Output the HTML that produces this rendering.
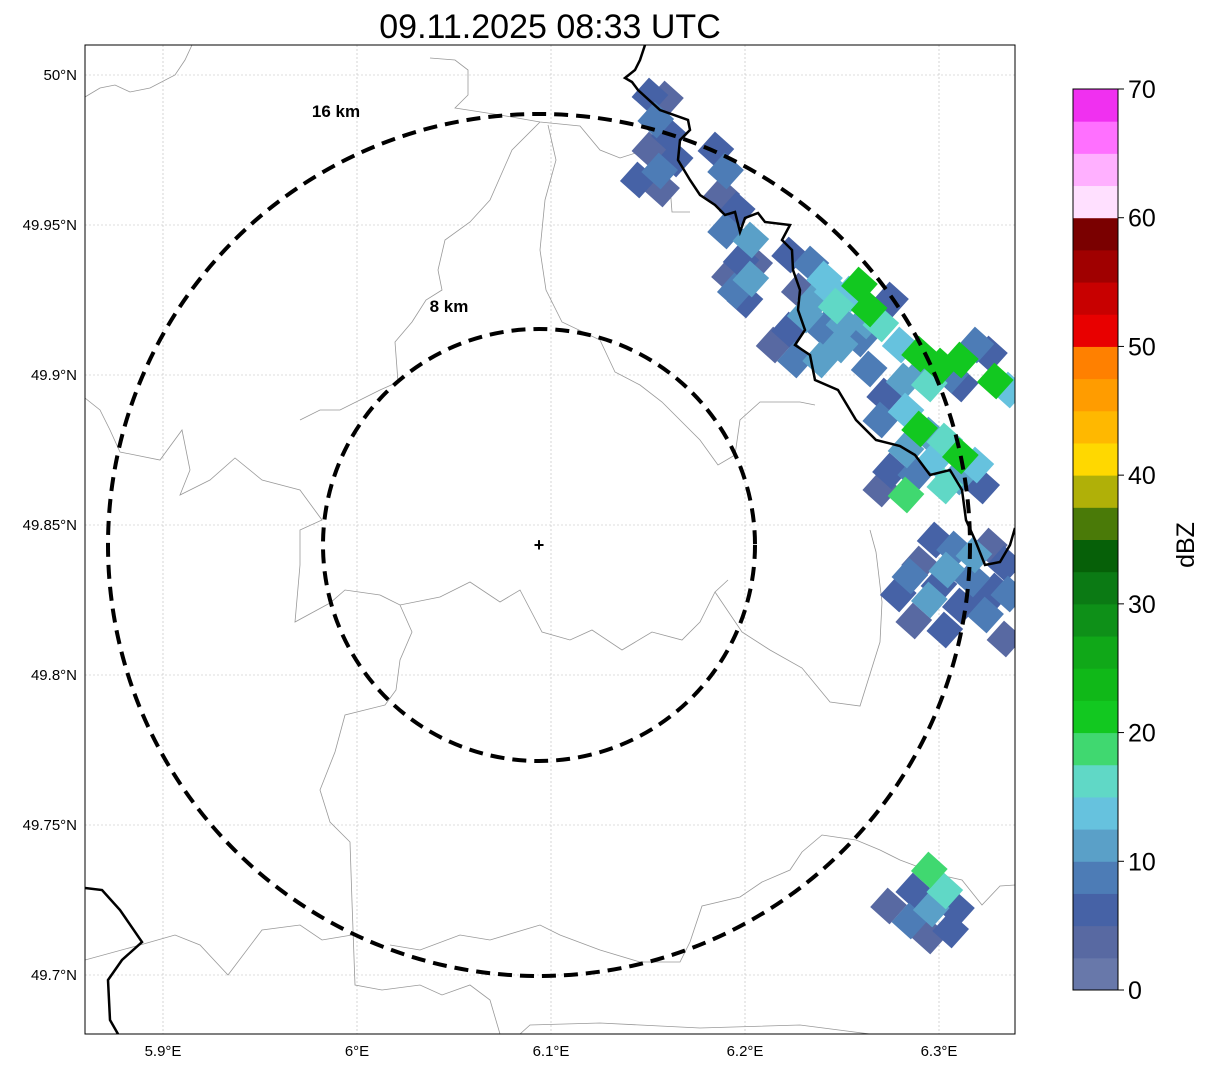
<!DOCTYPE html>
<html><head><meta charset="utf-8"><style>
body{margin:0;background:#fff;}
svg{display:block;font-family:"Liberation Sans",sans-serif;}
</style></head><body>
<svg id="chart" width="1207" height="1069">
<defs><clipPath id="plotclip"><rect x="85" y="45" width="930" height="989"/></clipPath></defs>
<text x="550" y="38" font-size="34" text-anchor="middle">09.11.2025 08:33 UTC</text>
<g id="grid"></g>
<g clip-path="url(#plotclip)">
<g id="borders" fill="none" stroke="#999" stroke-width="0.8">
<polyline points="85,97 100,88 115,85 130,92 150,88 175,75 185,60 192,45"/>
<polyline points="430,58 455,60 468,70 468,95 455,108 500,115 540,122 580,126 600,150 620,158 645,150 668,160 672,212 690,212"/>
<polyline points="548,125 556,160 545,200 540,250 546,290 562,322 600,340 615,372 640,385 662,402 700,440 718,465 735,455 740,420 760,402 800,402 815,405"/>
<polyline points="540,122 512,150 490,200 470,222 445,240 438,270 442,290 426,300 412,322 395,342 398,382 380,390 360,400 340,410 320,410 300,420"/>
<polyline points="85,398 100,410 110,430 120,452 160,460 182,430 190,470 180,495 210,480 235,458 262,480 300,490 322,520 300,530 300,565 295,622 330,603 345,590 380,595 400,605 440,597 470,582 500,602 520,590 542,632 570,640 592,630 622,650 652,632 682,640 700,622 715,592 728,580"/>
<polyline points="400,605 412,632 400,660 396,690 385,705 345,715 335,752 320,790 330,822 350,842 352,902 355,985 382,990 420,985 442,995 470,985 490,1000 500,1034"/>
<polyline points="85,960 140,945 175,935 200,945 228,975 262,930 300,925 322,940 352,935"/>
<polyline points="1015,885 1000,886 982,905 962,880 940,875 900,860 880,850 856,840 822,835 802,852 790,870 762,882 740,897 702,906 690,942 680,962 640,962 600,950 560,935 540,925 490,940 460,935 420,950 390,945"/>
<polyline points="520,1034 530,1025 600,1023 700,1028 800,1025 870,1034"/>
<polyline points="715,592 742,632 770,650 802,668 830,702 860,706 880,642 882,602 876,552 870,530"/>
</g>
<g id="echoes"></g>
<polyline fill="none" stroke="#000" stroke-width="2.5" points="645,45 640,60 635,70 625,78 632,82 638,90 660,110 688,120 690,130 680,140 678,160 690,180 700,195 715,205 725,215 735,212 740,232 745,218 758,213 765,222 790,225 782,240 792,250 793,270 800,290 798,310 805,330 795,345 810,355 815,380 838,390 856,420 876,440 900,446 915,455 930,475 950,470 962,490 966,520 975,540 985,565 1000,562 1010,545 1015,528"/>
<polyline fill="none" stroke="#000" stroke-width="2.5" points="85,888 102,890 120,910 142,942 122,960 108,980 110,1020 118,1034"/>
<circle cx="539" cy="545" r="216" fill="none" stroke="#000" stroke-width="4" stroke-dasharray="14,8"/>
<circle cx="539" cy="545" r="431" fill="none" stroke="#000" stroke-width="4" stroke-dasharray="14,8"/>
<text x="449" y="312" font-size="17" font-weight="bold" text-anchor="middle">8 km</text>
<text x="336" y="117" font-size="17" font-weight="bold" text-anchor="middle">16 km</text>
<text x="539" y="551" font-size="18" font-weight="bold" text-anchor="middle">+</text>
</g>
<rect x="85" y="45" width="930" height="989" fill="none" stroke="#000" stroke-width="1"/>
<g id="ticks" font-size="15"></g>
<g id="cbar"></g>
<text transform="translate(1194,545) rotate(-90)" font-size="25" text-anchor="middle">dBZ</text>
</svg>
<script>
const lonTicks=[5.9,6.0,6.1,6.2,6.3];
const lonLabels=["5.9°E","6°E","6.1°E","6.2°E","6.3°E"];
const latTicks=[50,49.95,49.9,49.85,49.8,49.75,49.7];
const latLabels=["50°N","49.95°N","49.9°N","49.85°N","49.8°N","49.75°N","49.7°N"];
const cbTicks=[0,10,20,30,40,50,60,70];
const bandColors=["#6878aa","#5869a2","#4662a6","#4d7cb6","#5aa0c8","#66c2de","#60d8c6","#40d870","#12c820","#10b818","#10a818","#0e9018","#0b7a14","#066008","#4a7a08","#b0b008","#ffd800","#ffb800","#ff9c00","#ff8000","#e80000","#c80000","#a00000","#7a0000","#ffe0ff","#ffb0ff","#ff70ff","#f030f0"];
const cellLon=[6.151,6.159,6.154,6.161,6.151,6.156,6.164,6.157,6.145,
6.185,6.190,6.188,6.196,6.190,6.203,6.198,6.205,6.195,6.203,6.200,6.192,
6.223,6.234,6.241,6.228,6.236,6.247,6.254,6.259,6.264,6.270,6.251,6.241,6.223,6.215,6.226,6.249,6.259,6.275,6.280,6.290,6.301,6.311,6.319,6.326,6.329,6.336,6.311,6.295,6.282,6.272,6.264,6.239,6.231,6.245,6.262,6.290,6.306,
6.270,6.283,6.290,6.303,6.311,6.319,6.298,6.283,6.275,6.288,6.303,6.270,6.283,6.322,6.295,6.310,
6.298,6.308,6.326,6.334,6.290,6.304,6.317,6.329,6.279,6.295,6.311,6.324,6.287,6.303,6.334,6.318,6.300,6.285,6.320,6.336,
6.295,6.287,6.303,6.274,6.296,6.309,6.285,6.306,6.295];
const cellLat=[49.993,49.992,49.985,49.980,49.975,49.968,49.972,49.962,49.965,
49.975,49.968,49.960,49.955,49.948,49.945,49.938,49.937,49.928,49.932,49.925,49.933,
49.940,49.937,49.932,49.928,49.925,49.923,49.927,49.930,49.922,49.917,49.917,49.915,49.915,49.910,49.905,49.910,49.912,49.925,49.910,49.907,49.903,49.905,49.910,49.907,49.898,49.895,49.897,49.897,49.898,49.893,49.902,49.905,49.920,49.928,49.918,49.900,49.900,
49.885,49.888,49.882,49.878,49.873,49.870,49.872,49.875,49.868,49.867,49.863,49.862,49.860,49.863,49.880,49.866,
49.845,49.842,49.843,49.837,49.837,49.835,49.832,49.828,49.827,49.825,49.823,49.820,49.818,49.815,49.812,49.840,49.830,49.833,49.825,49.827,
49.735,49.728,49.728,49.723,49.722,49.722,49.718,49.715,49.713];
const cellDbz=[5,3,8,5,3,8,5,3,5,
5,8,3,5,8,10,5,3,8,11,5,3,
5,8,13,3,10,15,14,20,22,16,12,8,5,3,8,10,8,5,14,22,21,22,8,5,20,13,5,16,10,5,8,12,10,13,12,12,9,
8,14,21,16,20,13,14,10,5,8,15,3,18,5,12,10,
5,8,3,5,3,10,8,5,5,10,5,8,3,5,3,10,5,8,5,8,
18,5,15,3,10,5,8,5,3];

const NS="http://www.w3.org/2000/svg";
const px=lon=>357+(lon-6)*1940;
const py=lat=>75+(50-lat)*3000;
const cy=v=>990-v*(901/70);
function mk(tag,attrs,parent){const e=document.createElementNS(NS,tag);for(const k in attrs)e.setAttribute(k,attrs[k]);parent.appendChild(e);return e;}
const grid=document.getElementById('grid'),ticks=document.getElementById('ticks');
lonTicks.forEach((t,i)=>{
 const l=mk('line',{x1:px(t),x2:px(t),y1:45,y2:1034,stroke:'#bbb','stroke-width':0.6,'stroke-dasharray':'2,2'},grid);
 
 
 const tx=mk('text',{x:px(t),y:1056,'text-anchor':'middle'},ticks);tx.textContent=lonLabels[i];
 
 
});
latTicks.forEach((t,i)=>{
 const l=mk('line',{x1:85,x2:1015,y1:py(t),y2:py(t),stroke:'#bbb','stroke-width':0.6,'stroke-dasharray':'2,2'},grid);
 
 
 const tx=mk('text',{x:77,y:py(t)+5,'text-anchor':'end'},ticks);tx.textContent=latLabels[i];
 
 
});
const echoes=document.getElementById('echoes');
function colorFor(v){let i=Math.floor(v/2.5);if(i>27)i=27;return bandColors[i];}
const order=cellDbz.map((v,i)=>i).sort((a,b)=>cellDbz[a]-cellDbz[b]);
order.forEach(i=>{
 const x=px(cellLon[i]),y=py(cellLat[i]);
 const r=mk('rect',{x:x-13,y:y-13,width:26,height:26,fill:colorFor(cellDbz[i]),transform:`rotate(42 ${x} ${y})`},echoes);
 
 
});
const cb=document.getElementById('cbar');
for(let i=0;i<28;i++){
 const r=mk('rect',{x:1073,y:cy((i+1)*2.5),width:45,height:cy(i*2.5)-cy((i+1)*2.5)+0.5,fill:bandColors[i]},cb);
 
 
}
mk('rect',{x:1073,y:cy(70),width:45,height:cy(0)-cy(70),fill:'none',stroke:'#000','stroke-width':1},cb);
cbTicks.forEach(t=>{
 mk('line',{x1:1118,x2:1124,y1:cy(t),y2:cy(t),stroke:'#000'},cb);
 const tx=mk('text',{x:1128,y:cy(t)+9,'font-size':25},cb);tx.textContent=t;
 
 
});
</script>
</body></html>
